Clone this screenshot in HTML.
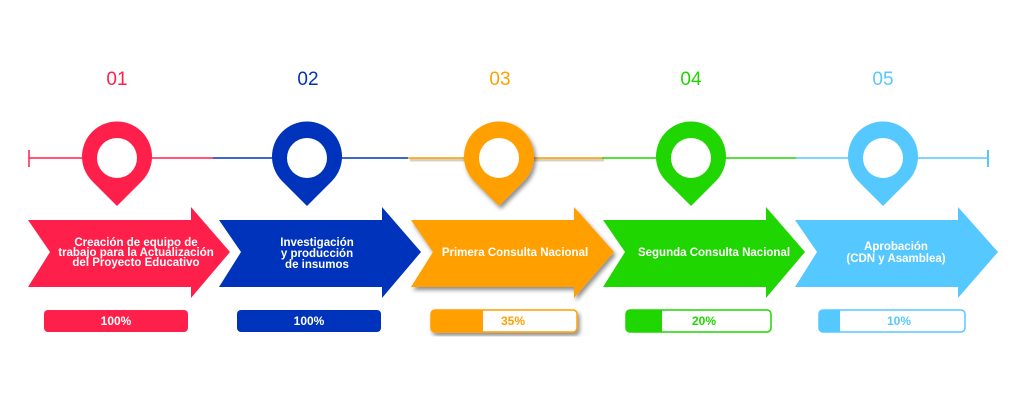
<!DOCTYPE html>
<html><head><style>
html,body{margin:0;padding:0;background:#fff;}
svg{display:block}
text{font-family:"Liberation Sans",sans-serif;}
</style></head><body>
<svg width="1024" height="410" viewBox="0 0 1024 410">
<defs>
<filter id="sh" x="-10%" y="-10%" width="130%" height="130%"><feDropShadow dx="2" dy="3" stdDeviation="2" flood-color="#000" flood-opacity="0.45"/></filter>
</defs>
<line x1="29" y1="158" x2="213" y2="158" stroke="#ff1f4b" stroke-width="1.5"/>
<line x1="29" y1="150" x2="29" y2="167" stroke="#ff1f4b" stroke-width="1.5"/>
<line x1="213" y1="158" x2="408" y2="158" stroke="#0033bb" stroke-width="1.5"/>
<line x1="410" y1="160" x2="604" y2="160" stroke="#d8d0c0" stroke-width="3"/>
<line x1="408" y1="158" x2="604" y2="158" stroke="#ff9f00" stroke-width="1.5"/>
<line x1="602" y1="158" x2="796" y2="158" stroke="#1fd600" stroke-width="1.5"/>
<line x1="796" y1="158" x2="988" y2="158" stroke="#55c8ff" stroke-width="1.5"/>
<line x1="988" y1="150" x2="988" y2="167" stroke="#55c8ff" stroke-width="2"/>

<g font-size="19" text-anchor="middle">
<text x="117" y="85" fill="#ff1f4b">01</text>
<text x="308" y="85" fill="#0033bb">02</text>
<text x="500" y="85" fill="#ff9f00">03</text>
<text x="691" y="85" fill="#1fd600">04</text>
<text x="883" y="85" fill="#55c8ff">05</text>
</g>

<g>
<path d="M117 206 L92 181 A35 35 0 1 1 142 181 Z" fill="#ff1f4b"/><circle cx="117" cy="158" r="20" fill="#fff"/>
<path d="M307 206 L282 181 A35 35 0 1 1 332 181 Z" fill="#0033bb"/><circle cx="307" cy="158" r="20" fill="#fff"/>
<path d="M499 206 L474 181 A35 35 0 1 1 524 181 Z" fill="#ff9f00" filter="url(#sh)"/><circle cx="499" cy="158" r="20" fill="#fff"/>
<path d="M691 206 L666 181 A35 35 0 1 1 716 181 Z" fill="#1fd600"/><circle cx="691" cy="158" r="20" fill="#fff"/>
<path d="M883 206 L858 181 A35 35 0 1 1 908 181 Z" fill="#55c8ff"/><circle cx="883" cy="158" r="20" fill="#fff"/>
</g>

<path d="M28 220 L191 220 L191 207 L230 252 L191 298 L191 287 L28 287 L50 252 Z" fill="#ff1f4b"/>
<path d="M219 220 L382 220 L382 207 L421 252 L382 298 L382 287 L219 287 L241 252 Z" fill="#0033bb"/>
<path d="M411 220 L574 220 L574 207 L614 252 L574 298 L574 287 L411 287 L433 252 Z" fill="#ff9f00" filter="url(#sh)"/>
<path d="M603 220 L766 220 L766 207 L805 252 L766 298 L766 287 L603 287 L625 252 Z" fill="#1fd600"/>
<path d="M795 220 L958 220 L958 207 L998 252 L958 298 L958 287 L795 287 L817 252 Z" fill="#55c8ff"/>

<g font-size="11.5" font-weight="bold" fill="#fff" text-anchor="middle">
<text x="136" y="246">Creación de equipo de</text>
<text x="136" y="256">trabajo para la Actualización</text>
<text x="136" y="266">del Proyecto Educativo</text>
<text x="317" y="246">Investigación</text>
<text x="317" y="257">y producción</text>
<text x="317" y="268">de insumos</text>
<text x="515" y="256">Primera Consulta Nacional</text>
<text x="714" y="256">Segunda Consulta Nacional</text>
<text x="896" y="250">Aprobación</text>
<text x="896" y="262">(CDN y Asamblea)</text>
</g>

<rect x="44" y="310" width="144" height="22" rx="4" fill="#ff1f4b"/>
<rect x="237" y="310" width="144" height="22" rx="4" fill="#0033bb"/>
<g filter="url(#sh)"><rect x="431" y="310" width="146" height="22" rx="4" fill="#fff" stroke="#ff9f00" stroke-width="1.5"/></g>
<path d="M435 310 H483 V332 H435 A4 4 0 0 1 431 328 V314 A4 4 0 0 1 435 310Z" fill="#ff9f00"/>
<rect x="626" y="310" width="145" height="22" rx="4" fill="#fff" stroke="#1fd600" stroke-width="1.5"/>
<path d="M630 310 H662 V332 H630 A4 4 0 0 1 626 328 V314 A4 4 0 0 1 630 310Z" fill="#1fd600"/>
<rect x="819" y="310" width="146" height="22" rx="4" fill="#fff" stroke="#55c8ff" stroke-width="1.5"/>
<path d="M823 310 H840 V332 H823 A4 4 0 0 1 819 328 V314 A4 4 0 0 1 823 310Z" fill="#55c8ff"/>
<g font-size="12" font-weight="bold" text-anchor="middle">
<text x="116" y="325" fill="#fff">100%</text>
<text x="309" y="325" fill="#fff">100%</text>
<text x="513" y="325" fill="#ff9f00">35%</text>
<text x="704" y="325" fill="#1fd600">20%</text>
<text x="899" y="325" fill="#55c8ff">10%</text>
</g>
</svg>
</body></html>
